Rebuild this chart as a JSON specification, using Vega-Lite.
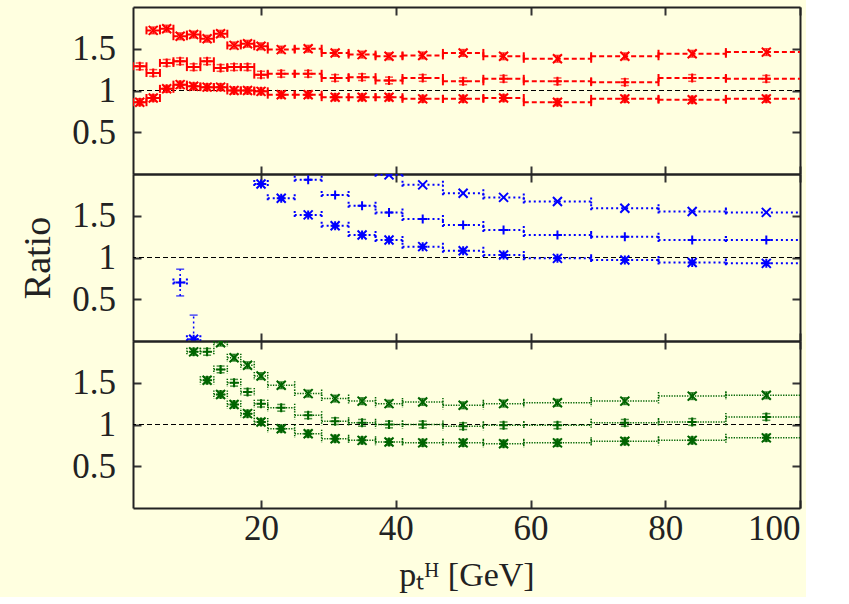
{
  "$schema": "https://vega.github.io/schema/vega-lite/v6.json",
  "background": "#ffffe0",
  "padding": {"left": 19, "top": 6, "right": 5, "bottom": 5},
  "spacing": 0,
  "bounds": "flush",
  "config": {
    "view": {"stroke": null},
    "axis": {
      "labelFont": "Liberation Serif", "labelFontSize": 35, "labelColor": "#222",
      "titleFont": "Liberation Serif", "titleFontWeight": "normal", "titleColor": "#222",
      "tickColor": "#333", "tickWidth": 2, "domainColor": "#222", "domainWidth": 2, "grid": false
    }
  },
  "datasets": {
    "bins": [
      {"x":2,"lo":1,"hi":3},{"x":4,"lo":3,"hi":5},{"x":6,"lo":5,"hi":7},{"x":8,"lo":7,"hi":9},{"x":10,"lo":9,"hi":11},
      {"x":12,"lo":11,"hi":13},{"x":14,"lo":13,"hi":15},{"x":16,"lo":15,"hi":17},{"x":18,"lo":17,"hi":19},{"x":20,"lo":19,"hi":21},
      {"x":23,"lo":21,"hi":25},{"x":27,"lo":25,"hi":29},{"x":31,"lo":29,"hi":33},{"x":35,"lo":33,"hi":37},{"x":39,"lo":37,"hi":41},
      {"x":44,"lo":41,"hi":47},{"x":50,"lo":47,"hi":53},{"x":56,"lo":53,"hi":59},{"x":64,"lo":59,"hi":69},{"x":74,"lo":69,"hi":79},
      {"x":84,"lo":79,"hi":89},{"x":95,"lo":89,"hi":101}
    ],
    "d": [
      {"p":1,"s":"x","x":4,"y":1.72,"e":0.04},{"p":1,"s":"x","x":6,"y":1.74,"e":0.04},{"p":1,"s":"x","x":8,"y":1.65,"e":0.04},
      {"p":1,"s":"x","x":10,"y":1.67,"e":0.04},{"p":1,"s":"x","x":12,"y":1.62,"e":0.04},{"p":1,"s":"x","x":14,"y":1.68,"e":0.04},
      {"p":1,"s":"x","x":16,"y":1.54,"e":0.04},{"p":1,"s":"x","x":18,"y":1.56,"e":0.04},{"p":1,"s":"x","x":20,"y":1.53,"e":0.04},
      {"p":1,"s":"x","x":23,"y":1.49,"e":0.04},{"p":1,"s":"x","x":27,"y":1.50,"e":0.04},{"p":1,"s":"x","x":31,"y":1.45,"e":0.04},
      {"p":1,"s":"x","x":35,"y":1.43,"e":0.04},{"p":1,"s":"x","x":39,"y":1.41,"e":0.04},{"p":1,"s":"x","x":44,"y":1.42,"e":0.04},
      {"p":1,"s":"x","x":50,"y":1.45,"e":0.04},{"p":1,"s":"x","x":56,"y":1.41,"e":0.04},{"p":1,"s":"x","x":64,"y":1.38,"e":0.04},
      {"p":1,"s":"x","x":74,"y":1.41,"e":0.04},{"p":1,"s":"x","x":84,"y":1.44,"e":0.04},{"p":1,"s":"x","x":95,"y":1.46,"e":0.04},
      {"p":1,"s":"p","x":2,"y":1.29,"e":0.04},{"p":1,"s":"p","x":4,"y":1.21,"e":0.04},{"p":1,"s":"p","x":6,"y":1.33,"e":0.04},
      {"p":1,"s":"p","x":8,"y":1.35,"e":0.04},{"p":1,"s":"p","x":10,"y":1.28,"e":0.04},{"p":1,"s":"p","x":12,"y":1.35,"e":0.04},
      {"p":1,"s":"p","x":14,"y":1.27,"e":0.04},{"p":1,"s":"p","x":16,"y":1.28,"e":0.04},{"p":1,"s":"p","x":18,"y":1.28,"e":0.04},
      {"p":1,"s":"p","x":20,"y":1.19,"e":0.04},{"p":1,"s":"p","x":23,"y":1.20,"e":0.04},{"p":1,"s":"p","x":27,"y":1.20,"e":0.04},
      {"p":1,"s":"p","x":31,"y":1.15,"e":0.04},{"p":1,"s":"p","x":35,"y":1.16,"e":0.04},{"p":1,"s":"p","x":39,"y":1.12,"e":0.04},
      {"p":1,"s":"p","x":44,"y":1.15,"e":0.04},{"p":1,"s":"p","x":50,"y":1.11,"e":0.04},{"p":1,"s":"p","x":56,"y":1.14,"e":0.04},
      {"p":1,"s":"p","x":64,"y":1.11,"e":0.04},{"p":1,"s":"p","x":74,"y":1.10,"e":0.04},{"p":1,"s":"p","x":84,"y":1.15,"e":0.04},
      {"p":1,"s":"p","x":95,"y":1.14,"e":0.04},
      {"p":1,"s":"a","x":2,"y":0.86,"e":0.04},{"p":1,"s":"a","x":4,"y":0.91,"e":0.04},{"p":1,"s":"a","x":6,"y":1.02,"e":0.04},
      {"p":1,"s":"a","x":8,"y":1.07,"e":0.04},{"p":1,"s":"a","x":10,"y":1.05,"e":0.04},{"p":1,"s":"a","x":12,"y":1.04,"e":0.04},
      {"p":1,"s":"a","x":14,"y":1.04,"e":0.04},{"p":1,"s":"a","x":16,"y":1.00,"e":0.04},{"p":1,"s":"a","x":18,"y":1.00,"e":0.04},
      {"p":1,"s":"a","x":20,"y":0.99,"e":0.04},{"p":1,"s":"a","x":23,"y":0.95,"e":0.04},{"p":1,"s":"a","x":27,"y":0.95,"e":0.04},
      {"p":1,"s":"a","x":31,"y":0.92,"e":0.04},{"p":1,"s":"a","x":35,"y":0.92,"e":0.04},{"p":1,"s":"a","x":39,"y":0.92,"e":0.04},
      {"p":1,"s":"a","x":44,"y":0.90,"e":0.04},{"p":1,"s":"a","x":50,"y":0.90,"e":0.04},{"p":1,"s":"a","x":56,"y":0.91,"e":0.04},
      {"p":1,"s":"a","x":64,"y":0.86,"e":0.04},{"p":1,"s":"a","x":74,"y":0.90,"e":0.04},{"p":1,"s":"a","x":84,"y":0.89,"e":0.04},
      {"p":1,"s":"a","x":95,"y":0.90,"e":0.04},

      {"p":2,"s":"x","x":39,"y":1.99,"e":0.01},{"p":2,"s":"x","x":44,"y":1.87,"e":0.01},{"p":2,"s":"x","x":50,"y":1.77,"e":0.01},
      {"p":2,"s":"x","x":56,"y":1.72,"e":0.01},{"p":2,"s":"x","x":64,"y":1.67,"e":0.01},{"p":2,"s":"x","x":74,"y":1.59,"e":0.01},
      {"p":2,"s":"x","x":84,"y":1.55,"e":0.01},{"p":2,"s":"x","x":95,"y":1.54,"e":0.01},
      {"p":2,"s":"p","x":8,"y":0.70,"e":0.16},{"p":2,"s":"p","x":27,"y":1.93,"e":0.01},{"p":2,"s":"p","x":31,"y":1.75,"e":0.01},
      {"p":2,"s":"p","x":35,"y":1.62,"e":0.01},{"p":2,"s":"p","x":39,"y":1.54,"e":0.01},{"p":2,"s":"p","x":44,"y":1.46,"e":0.01},
      {"p":2,"s":"p","x":50,"y":1.39,"e":0.01},{"p":2,"s":"p","x":56,"y":1.33,"e":0.01},{"p":2,"s":"p","x":64,"y":1.27,"e":0.01},
      {"p":2,"s":"p","x":74,"y":1.25,"e":0.01},{"p":2,"s":"p","x":84,"y":1.21,"e":0.01},{"p":2,"s":"p","x":95,"y":1.21,"e":0.01},
      {"p":2,"s":"a","x":10,"y":0.02,"e":0.29},{"p":2,"s":"a","x":20,"y":1.88,"e":0.01},{"p":2,"s":"a","x":23,"y":1.71,"e":0.01},
      {"p":2,"s":"a","x":27,"y":1.51,"e":0.01},{"p":2,"s":"a","x":31,"y":1.38,"e":0.01},{"p":2,"s":"a","x":35,"y":1.27,"e":0.01},
      {"p":2,"s":"a","x":39,"y":1.21,"e":0.01},{"p":2,"s":"a","x":44,"y":1.13,"e":0.01},{"p":2,"s":"a","x":50,"y":1.08,"e":0.01},
      {"p":2,"s":"a","x":56,"y":1.03,"e":0.01},{"p":2,"s":"a","x":64,"y":0.99,"e":0.01},{"p":2,"s":"a","x":74,"y":0.97,"e":0.01},
      {"p":2,"s":"a","x":84,"y":0.94,"e":0.01},{"p":2,"s":"a","x":95,"y":0.93,"e":0.01},

      {"p":3,"s":"x","x":14,"y":1.98,"e":0.04},{"p":3,"s":"x","x":16,"y":1.80,"e":0.04},{"p":3,"s":"x","x":18,"y":1.71,"e":0.04},
      {"p":3,"s":"x","x":20,"y":1.58,"e":0.04},{"p":3,"s":"x","x":23,"y":1.47,"e":0.04},{"p":3,"s":"x","x":27,"y":1.37,"e":0.04},
      {"p":3,"s":"x","x":31,"y":1.31,"e":0.04},{"p":3,"s":"x","x":35,"y":1.28,"e":0.04},{"p":3,"s":"x","x":39,"y":1.25,"e":0.04},
      {"p":3,"s":"x","x":44,"y":1.27,"e":0.04},{"p":3,"s":"x","x":50,"y":1.23,"e":0.04},{"p":3,"s":"x","x":56,"y":1.25,"e":0.04},
      {"p":3,"s":"x","x":64,"y":1.26,"e":0.04},{"p":3,"s":"x","x":74,"y":1.28,"e":0.04},{"p":3,"s":"x","x":84,"y":1.34,"e":0.04},
      {"p":3,"s":"x","x":95,"y":1.35,"e":0.04},
      {"p":3,"s":"p","x":12,"y":1.87,"e":0.04},{"p":3,"s":"p","x":14,"y":1.66,"e":0.04},{"p":3,"s":"p","x":16,"y":1.50,"e":0.04},
      {"p":3,"s":"p","x":18,"y":1.39,"e":0.04},{"p":3,"s":"p","x":20,"y":1.25,"e":0.04},{"p":3,"s":"p","x":23,"y":1.20,"e":0.04},
      {"p":3,"s":"p","x":27,"y":1.11,"e":0.04},{"p":3,"s":"p","x":31,"y":1.04,"e":0.04},{"p":3,"s":"p","x":35,"y":1.02,"e":0.04},
      {"p":3,"s":"p","x":39,"y":1.00,"e":0.04},{"p":3,"s":"p","x":44,"y":1.00,"e":0.04},{"p":3,"s":"p","x":50,"y":0.98,"e":0.04},
      {"p":3,"s":"p","x":56,"y":0.99,"e":0.04},{"p":3,"s":"p","x":64,"y":0.99,"e":0.04},{"p":3,"s":"p","x":74,"y":1.02,"e":0.04},
      {"p":3,"s":"p","x":84,"y":1.03,"e":0.04},{"p":3,"s":"p","x":95,"y":1.09,"e":0.04},
      {"p":3,"s":"a","x":10,"y":1.87,"e":0.04},{"p":3,"s":"a","x":12,"y":1.53,"e":0.04},{"p":3,"s":"a","x":14,"y":1.36,"e":0.04},
      {"p":3,"s":"a","x":16,"y":1.24,"e":0.04},{"p":3,"s":"a","x":18,"y":1.13,"e":0.04},{"p":3,"s":"a","x":20,"y":1.03,"e":0.04},
      {"p":3,"s":"a","x":23,"y":0.95,"e":0.04},{"p":3,"s":"a","x":27,"y":0.89,"e":0.04},{"p":3,"s":"a","x":31,"y":0.83,"e":0.04},
      {"p":3,"s":"a","x":35,"y":0.81,"e":0.04},{"p":3,"s":"a","x":39,"y":0.79,"e":0.04},{"p":3,"s":"a","x":44,"y":0.78,"e":0.04},
      {"p":3,"s":"a","x":50,"y":0.78,"e":0.04},{"p":3,"s":"a","x":56,"y":0.77,"e":0.04},{"p":3,"s":"a","x":64,"y":0.78,"e":0.04},
      {"p":3,"s":"a","x":74,"y":0.80,"e":0.04},{"p":3,"s":"a","x":84,"y":0.81,"e":0.04},{"p":3,"s":"a","x":95,"y":0.84,"e":0.04}
    ]
  },
  "vconcat": [
    {
      "width": 667, "height": 167,
      "data": {"name": "d"},
      "transform": [{"filter": "datum.p == 1"}, {"lookup": "x", "from": {"data": {"name": "bins"}, "key": "x", "fields": ["lo", "hi"]}}],
      "resolve": {"axis": {"x": "independent", "y": "independent"}},
      "layer": [
        {"data": {"values": [{"r": 1}]}, "mark": {"type": "rule", "color": "#000", "strokeWidth": 1, "strokeDash": [5, 3]},
         "encoding": {"y": {"field": "r", "type": "quantitative", "scale": {"domain": [0, 2], "nice": false}, "axis": null}}},
        {"mark": {"type": "rule", "color": "#ff0000", "strokeWidth": 2, "strokeDash": [5, 3], "clip": true},
         "encoding": {
           "x": {"field": "lo", "type": "quantitative", "scale": {"domain": [1, 100], "nice": false, "zero": false},
                 "axis": {"orient": "bottom", "values": [20, 40, 60, 80, 100], "labels": false, "title": null, "tickSize": -8}},
           "x2": {"field": "hi"},
           "y": {"field": "y", "type": "quantitative", "scale": {"domain": [0, 2], "nice": false},
                 "axis": {"orient": "left", "values": [0.5, 1, 1.5], "format": "~g", "title": null, "tickSize": -8, "labelPadding": 25.5}}}},
        {"mark": {"type": "point", "shape": "M0,-1L0,1", "size": 64, "filled": false, "opacity": 1, "color": "#ff0000", "strokeWidth": 2, "clip": true},
         "encoding": {"x": {"field": "lo", "type": "quantitative", "scale": {"domain": [1, 100], "nice": false, "zero": false}, "axis": null},
                      "y": {"field": "y", "type": "quantitative", "scale": {"domain": [0, 2], "nice": false}, "axis": null}}},
        {"mark": {"type": "point", "shape": "M0,-1L0,1", "size": 64, "filled": false, "opacity": 1, "color": "#ff0000", "strokeWidth": 2, "clip": true},
         "encoding": {"x": {"field": "hi", "type": "quantitative", "scale": {"domain": [1, 100], "nice": false, "zero": false}, "axis": null},
                      "y": {"field": "y", "type": "quantitative", "scale": {"domain": [0, 2], "nice": false}, "axis": null}}},
        {"mark": {"type": "errorbar", "color": "#ff0000", "ticks": true, "size": 8, "thickness": 1.5, "clip": true},
         "encoding": {"x": {"field": "x", "type": "quantitative", "scale": {"domain": [1, 100], "nice": false, "zero": false}, "axis": null},
                      "y": {"field": "y", "type": "quantitative", "scale": {"domain": [0, 2], "nice": false}, "axis": null},
                      "yError": {"field": "e"}}},
        {"mark": {"type": "point", "filled": false, "opacity": 1, "size": 81, "strokeWidth": 2, "color": "#ff0000", "clip": true},
         "encoding": {
           "x": {"field": "x", "type": "quantitative", "scale": {"domain": [1, 100], "nice": false, "zero": false},
                 "axis": {"orient": "top", "values": [20, 40, 60, 80, 100], "labels": false, "title": null, "tickSize": -8}},
           "y": {"field": "y", "type": "quantitative", "scale": {"domain": [0, 2], "nice": false},
                 "axis": {"orient": "right", "values": [0.5, 1, 1.5], "labels": false, "title": null, "tickSize": -8}},
           "shape": {"field": "s", "type": "nominal", "legend": null,
                     "scale": {"domain": ["x", "p", "a"], "range": ["M-1,-1L1,1M-1,1L1,-1", "M-1,0L1,0M0,-1L0,1", "M-1,0L1,0M0,-1L0,1M-1,-1L1,1M-1,1L1,-1"]}}}}
      ]
    },
    {
      "width": 667, "height": 167,
      "data": {"name": "d"},
      "transform": [{"filter": "datum.p == 2"}, {"lookup": "x", "from": {"data": {"name": "bins"}, "key": "x", "fields": ["lo", "hi"]}}],
      "resolve": {"axis": {"x": "independent", "y": "independent"}},
      "layer": [
        {"data": {"values": [{"r": 1}]}, "mark": {"type": "rule", "color": "#000", "strokeWidth": 1, "strokeDash": [5, 3]},
         "encoding": {"y": {"field": "r", "type": "quantitative", "scale": {"domain": [0, 2], "nice": false}, "axis": null}}},
        {"mark": {"type": "rule", "color": "#0000ff", "strokeWidth": 2, "strokeDash": [2, 3], "clip": true},
         "encoding": {
           "x": {"field": "lo", "type": "quantitative", "scale": {"domain": [1, 100], "nice": false, "zero": false},
                 "axis": {"orient": "bottom", "values": [20, 40, 60, 80, 100], "labels": false, "title": null, "tickSize": -8}},
           "x2": {"field": "hi"},
           "y": {"field": "y", "type": "quantitative", "scale": {"domain": [0, 2], "nice": false},
                 "axis": {"orient": "left", "values": [0.5, 1, 1.5], "format": "~g", "title": "Ratio", "titleFontSize": 38, "titlePadding": 14, "tickSize": -8, "labelPadding": 25.5}}}},
        {"mark": {"type": "point", "shape": "M0,-1L0,1", "size": 64, "filled": false, "opacity": 1, "color": "#0000ff", "strokeWidth": 2, "strokeDash": [2, 2], "clip": true},
         "encoding": {"x": {"field": "lo", "type": "quantitative", "scale": {"domain": [1, 100], "nice": false, "zero": false}, "axis": null},
                      "y": {"field": "y", "type": "quantitative", "scale": {"domain": [0, 2], "nice": false}, "axis": null}}},
        {"mark": {"type": "point", "shape": "M0,-1L0,1", "size": 64, "filled": false, "opacity": 1, "color": "#0000ff", "strokeWidth": 2, "strokeDash": [2, 2], "clip": true},
         "encoding": {"x": {"field": "hi", "type": "quantitative", "scale": {"domain": [1, 100], "nice": false, "zero": false}, "axis": null},
                      "y": {"field": "y", "type": "quantitative", "scale": {"domain": [0, 2], "nice": false}, "axis": null}}},
        {"transform": [{"filter": "datum.e > 0.05"}],
         "mark": {"type": "errorbar", "color": "#0000ff", "ticks": true, "size": 8, "thickness": 1.5, "rule": {"strokeDash": [2, 3]}, "clip": true},
         "encoding": {"x": {"field": "x", "type": "quantitative", "scale": {"domain": [1, 100], "nice": false, "zero": false}, "axis": null},
                      "y": {"field": "y", "type": "quantitative", "scale": {"domain": [0, 2], "nice": false}, "axis": null},
                      "yError": {"field": "e"}}},
        {"mark": {"type": "point", "filled": false, "opacity": 1, "size": 81, "strokeWidth": 2, "color": "#0000ff", "clip": true},
         "encoding": {
           "x": {"field": "x", "type": "quantitative", "scale": {"domain": [1, 100], "nice": false, "zero": false},
                 "axis": {"orient": "top", "values": [20, 40, 60, 80, 100], "labels": false, "title": null, "tickSize": -8}},
           "y": {"field": "y", "type": "quantitative", "scale": {"domain": [0, 2], "nice": false},
                 "axis": {"orient": "right", "values": [0.5, 1, 1.5], "labels": false, "title": null, "tickSize": -8}},
           "shape": {"field": "s", "type": "nominal", "legend": null,
                     "scale": {"domain": ["x", "p", "a"], "range": ["M-1,-1L1,1M-1,1L1,-1", "M-1,0L1,0M0,-1L0,1", "M-1,0L1,0M0,-1L0,1M-1,-1L1,1M-1,1L1,-1"]}}}}
      ]
    },
    {
      "width": 667, "height": 167,
      "data": {"name": "d"},
      "transform": [{"filter": "datum.p == 3"}, {"lookup": "x", "from": {"data": {"name": "bins"}, "key": "x", "fields": ["lo", "hi"]}}],
      "resolve": {"axis": {"x": "independent", "y": "independent"}},
      "layer": [
        {"data": {"values": [{"r": 1}]}, "mark": {"type": "rule", "color": "#000", "strokeWidth": 1, "strokeDash": [5, 3]},
         "encoding": {"y": {"field": "r", "type": "quantitative", "scale": {"domain": [0, 2], "nice": false}, "axis": null}}},
        {"mark": {"type": "rule", "color": "#006400", "strokeWidth": 1.5, "strokeDash": [1.3, 1.3], "clip": true},
         "encoding": {
           "x": {"field": "lo", "type": "quantitative", "scale": {"domain": [1, 100], "nice": false, "zero": false},
                 "axis": {"orient": "bottom", "values": [20, 40, 60, 80, 100], "format": "d", "title": "pₜᴴ [GeV]", "titleFontSize": 34, "titlePadding": 12, "tickSize": -8, "labelPadding": 11}},
           "x2": {"field": "hi"},
           "y": {"field": "y", "type": "quantitative", "scale": {"domain": [0, 2], "nice": false},
                 "axis": {"orient": "left", "values": [0.5, 1, 1.5], "format": "~g", "title": null, "tickSize": -8, "labelPadding": 25.5}}}},
        {"mark": {"type": "point", "shape": "M0,-1L0,1", "size": 64, "filled": false, "opacity": 1, "color": "#006400", "strokeWidth": 1.5, "strokeDash": [1.3, 1.3], "clip": true},
         "encoding": {"x": {"field": "lo", "type": "quantitative", "scale": {"domain": [1, 100], "nice": false, "zero": false}, "axis": null},
                      "y": {"field": "y", "type": "quantitative", "scale": {"domain": [0, 2], "nice": false}, "axis": null}}},
        {"mark": {"type": "point", "shape": "M0,-1L0,1", "size": 64, "filled": false, "opacity": 1, "color": "#006400", "strokeWidth": 1.5, "strokeDash": [1.3, 1.3], "clip": true},
         "encoding": {"x": {"field": "hi", "type": "quantitative", "scale": {"domain": [1, 100], "nice": false, "zero": false}, "axis": null},
                      "y": {"field": "y", "type": "quantitative", "scale": {"domain": [0, 2], "nice": false}, "axis": null}}},
        {"mark": {"type": "errorbar", "color": "#006400", "ticks": true, "size": 8, "thickness": 1.5, "clip": true},
         "encoding": {"x": {"field": "x", "type": "quantitative", "scale": {"domain": [1, 100], "nice": false, "zero": false}, "axis": null},
                      "y": {"field": "y", "type": "quantitative", "scale": {"domain": [0, 2], "nice": false}, "axis": null},
                      "yError": {"field": "e"}}},
        {"mark": {"type": "point", "filled": false, "opacity": 1, "size": 81, "strokeWidth": 2, "color": "#006400", "clip": true},
         "encoding": {
           "x": {"field": "x", "type": "quantitative", "scale": {"domain": [1, 100], "nice": false, "zero": false},
                 "axis": {"orient": "top", "values": [20, 40, 60, 80, 100], "labels": false, "title": null, "tickSize": -8}},
           "y": {"field": "y", "type": "quantitative", "scale": {"domain": [0, 2], "nice": false},
                 "axis": {"orient": "right", "values": [0.5, 1, 1.5], "labels": false, "title": null, "tickSize": -8}},
           "shape": {"field": "s", "type": "nominal", "legend": null,
                     "scale": {"domain": ["x", "p", "a"], "range": ["M-1,-1L1,1M-1,1L1,-1", "M-1,0L1,0M0,-1L0,1", "M-1,0L1,0M0,-1L0,1M-1,-1L1,1M-1,1L1,-1"]}}}}
      ]
    }
  ]
}
